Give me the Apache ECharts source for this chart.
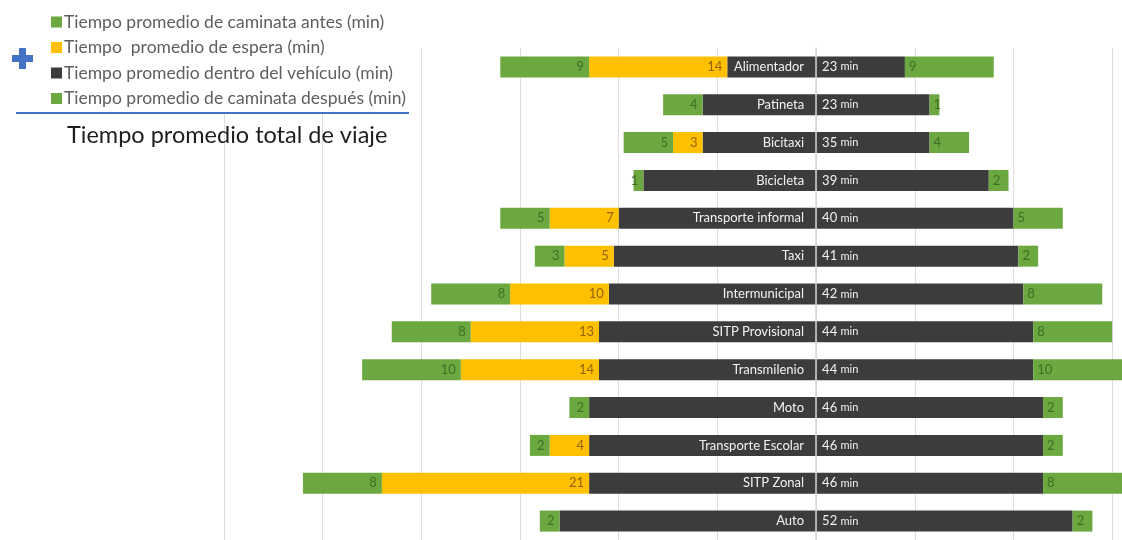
<!DOCTYPE html>
<html>
<head>
<meta charset="utf-8">
<script src="https://cdn.jsdelivr.net/npm/echarts@6/dist/echarts.min.js"></script>
<style>
  html, body { margin: 0; padding: 0; background: #fff; }
  #chart { width: 1122px; height: 540px; }
</style>
</head>
<body>
<div id="chart"></div>
<script>
// modos de transporte, de arriba hacia abajo
const categories = ['Alimentador', 'Patineta', 'Bicitaxi', 'Bicicleta', 'Transporte informal', 'Taxi',
    'Intermunicipal', 'SITP Provisional', 'Transmilenio', 'Moto', 'Transporte Escolar', 'SITP Zonal', 'Auto'];
const walkBefore = [9, 4, 5, 1, 5, 3, 8, 8, 10, 2, 2, 8, 2];
const waitTime = [14, 0, 3, 0, 7, 5, 10, 13, 14, 0, 4, 21, 0];
// largo de la barra oscura (min)
const inVehicle = [18, 23, 23, 35, 40, 41, 42, 44, 44, 46, 46, 46, 52];
// número impreso en la barra ("23 min")
const totalLabel = [23, 23, 35, 39, 40, 41, 42, 44, 44, 46, 46, 46, 52];
const walkAfter = [9, 1, 4, 2, 5, 2, 8, 8, 10, 2, 2, 8, 2];

const names = {
    before: 'Tiempo promedio de caminata antes (min)',
    wait: 'Tiempo  promedio de espera (min)',
    vehicle: 'Tiempo promedio dentro del vehículo (min)',
    after: 'Tiempo promedio de caminata después (min)'
};

const colors = {
    green: '#6BA840',
    yellow: '#FFC000',
    dark: '#3C3C3C',
    greenText: '#3F6E26',
    yellowText: '#95620A',
    grid: '#DCDCDC',
    blue: '#4472C4'
};

const chart = echarts.init(document.getElementById('chart'));

const hideZero = p => (p.value === 0 ? '' : String(Math.abs(p.value)));

const baseLabel = {
    show: true,
    fontFamily: 'Lato',
    fontSize: 13
};

const option = {
    backgroundColor: '#fff',
    animation: false,
    grid: { left: 224, top: 48, width: 898, height: 497 },
    legend: {
        orient: 'vertical',
        left: 46,
        top: 8,
        z: 10,
        icon: 'rect',
        itemWidth: 11,
        itemHeight: 11,
        itemGap: 7.5,
        textStyle: { color: '#5E5E5E', fontSize: 17.5, fontFamily: 'Lato', lineHeight: 17, padding: [0, 0, 0, -3] },
        data: [names.before, names.wait, names.vehicle, names.after]
    },
    graphic: [
        { type: 'rect', z: 5, shape: { x: 0, y: 0, width: 418, height: 114 }, style: { fill: '#fff' } },
        { type: 'rect', z: 10, shape: { x: 12, y: 55, width: 21, height: 7 }, style: { fill: colors.blue } },
        { type: 'rect', z: 10, shape: { x: 19, y: 48, width: 7, height: 21 }, style: { fill: colors.blue } },
        { type: 'rect', z: 10, shape: { x: 16, y: 112, width: 393, height: 2 }, style: { fill: colors.blue } },
        {
            type: 'text', z: 10, left: 67, top: 123,
            style: { text: 'Tiempo promedio total de viaje', fontSize: 23.5, fontFamily: 'Lato', fill: '#1E1E1E' }
        }
    ],
    xAxis: {
        type: 'value',
        min: -60,
        max: 31,
        interval: 10,
        axisLabel: { show: false },
        axisTick: { show: false },
        axisLine: { show: false },
        splitLine: { showMaxLine: false, lineStyle: { color: colors.grid, width: 1 } }
    },
    yAxis: {
        type: 'category',
        data: categories,
        inverse: true,
        z: 5,
        axisLabel: { show: false },
        axisTick: { show: false },
        axisLine: { show: true, onZero: true, lineStyle: { color: '#D6D6D6', width: 1.5 } }
    },
    series: [
        {
            name: names.vehicle,
            type: 'bar',
            stack: 'total',
            barWidth: 21,
            data: inVehicle.map(v => -v / 2),
            itemStyle: { color: colors.dark },
            label: { ...baseLabel, position: 'insideRight', distance: 12, color: '#F2F2F2', formatter: p => p.name }
        },
        {
            name: names.wait,
            type: 'bar',
            stack: 'total',
            barWidth: 21,
            data: waitTime.map(v => -v),
            itemStyle: { color: colors.yellow },
            label: { ...baseLabel, position: 'insideRight', distance: 5, color: colors.yellowText, formatter: hideZero }
        },
        {
            name: names.before,
            type: 'bar',
            stack: 'total',
            barWidth: 21,
            data: walkBefore.map(v => -v),
            itemStyle: { color: colors.green },
            label: { ...baseLabel, position: 'insideRight', distance: 5, color: colors.greenText, formatter: hideZero }
        },
        {
            name: names.vehicle,
            type: 'bar',
            stack: 'total',
            barWidth: 21,
            data: inVehicle.map(v => v / 2),
            itemStyle: { color: colors.dark },
            label: {
                ...baseLabel,
                position: 'insideLeft',
                distance: 6,
                formatter: p => `{n|${totalLabel[p.dataIndex]}} {u|min}`,
                rich: {
                    n: { color: '#F2F2F2', fontSize: 13, fontFamily: 'Lato' },
                    u: { color: '#F2F2F2', fontSize: 11, fontFamily: 'Lato' }
                }
            }
        },
        {
            name: names.after,
            type: 'bar',
            stack: 'total',
            barWidth: 21,
            data: walkAfter,
            itemStyle: { color: colors.green },
            label: { ...baseLabel, position: 'insideLeft', distance: 4, color: colors.greenText, formatter: hideZero }
        }
    ]
};

chart.setOption(option);
window.addEventListener('resize', () => chart.resize());
</script>
</body>
</html>
